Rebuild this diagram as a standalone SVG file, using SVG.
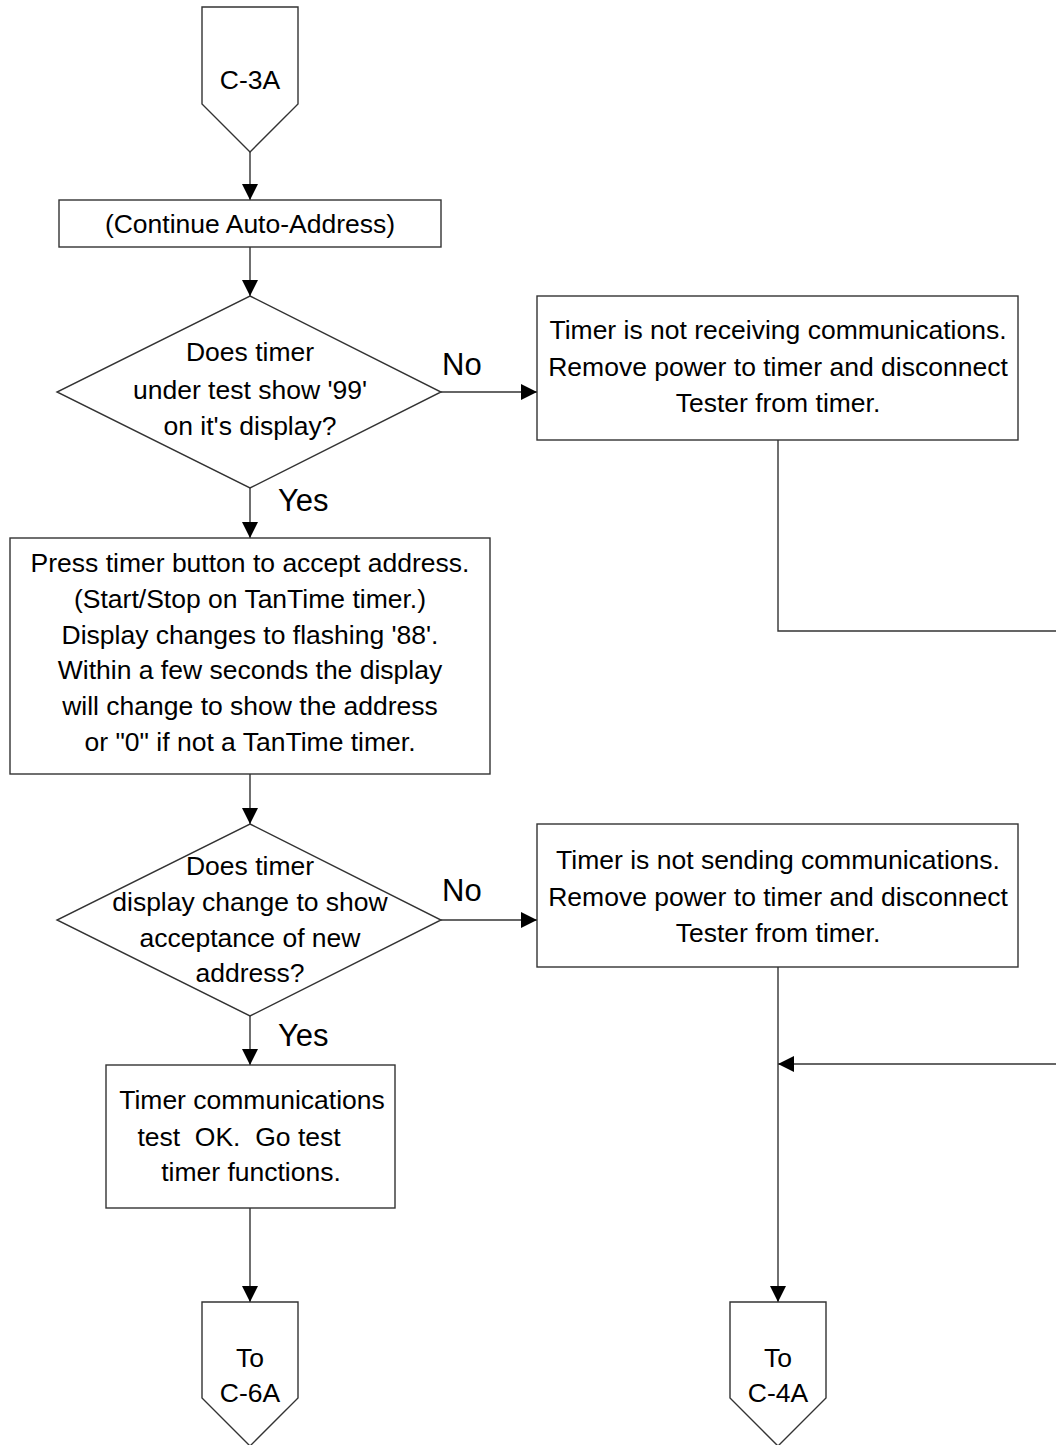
<svg xmlns="http://www.w3.org/2000/svg" width="1056" height="1445" viewBox="0 0 1056 1445">
<defs>
<style>
.shape{fill:#fff;stroke:#333;stroke-width:1.4}
.edge{fill:none;stroke:#333;stroke-width:1.4}
text{font-family:"Liberation Sans",Arial,sans-serif;font-size:26.5px;fill:#000;text-anchor:middle}
.lbl{font-size:31px;text-anchor:start}
.pre{white-space:pre}
</style>
<marker id="arr" viewBox="0 0 16 16" refX="16" refY="8" markerWidth="16" markerHeight="16" markerUnits="userSpaceOnUse" orient="auto">
<path d="M0,0 L16,8 L0,16 Z" fill="#000"/>
</marker>
</defs>
<rect width="1056" height="1445" fill="#fff"/>
<g id="connectors">
<line class="edge" x1="250" y1="152" x2="250" y2="200" marker-end="url(#arr)"/>
<line class="edge" x1="250" y1="247" x2="250" y2="296" marker-end="url(#arr)"/>
<line class="edge" x1="441" y1="392" x2="537" y2="392" marker-end="url(#arr)"/>
<line class="edge" x1="250" y1="488" x2="250" y2="538" marker-end="url(#arr)"/>
<line class="edge" x1="250" y1="774" x2="250" y2="824" marker-end="url(#arr)"/>
<line class="edge" x1="441" y1="920" x2="537" y2="920" marker-end="url(#arr)"/>
<line class="edge" x1="250" y1="1016" x2="250" y2="1065" marker-end="url(#arr)"/>
<line class="edge" x1="250" y1="1208" x2="250" y2="1302" marker-end="url(#arr)"/>
<polyline class="edge" points="778,440 778,631 1056,631"/>
<line class="edge" x1="1056" y1="1064" x2="778" y2="1064" marker-end="url(#arr)"/>
<line class="edge" x1="778" y1="967" x2="778" y2="1302" marker-end="url(#arr)"/>
<text class="lbl" x="442" y="375">No</text>
<text class="lbl" x="278" y="511">Yes</text>
<text class="lbl" x="442" y="901">No</text>
<text class="lbl" x="278" y="1046">Yes</text>
</g>
<g id="start">
<polygon class="shape" points="202,7 298,7 298,104 250,152 202,104"/>
<text x="250" y="89">C-3A</text>
</g>
<g id="continue">
<rect class="shape" x="59" y="200" width="382" height="47"/>
<text x="250" y="233">(Continue Auto-Address)</text>
</g>
<g id="decision1">
<polygon class="shape" points="250,296 441,392 250,488 57,392"/>
<text x="250" y="361">Does timer</text>
<text x="250" y="399">under test show '99'</text>
<text x="250" y="435">on it's display?</text>
</g>
<g id="notReceiving">
<rect class="shape" x="537" y="296" width="481" height="144"/>
<text x="778" y="339">Timer is not receiving communications.</text>
<text x="778" y="376">Remove power to timer and disconnect</text>
<text x="778" y="412">Tester from timer.</text>
</g>
<g id="pressButton">
<rect class="shape" x="10" y="538" width="480" height="236"/>
<text x="250" y="572">Press timer button to accept address.</text>
<text x="250" y="608">(Start/Stop on TanTime timer.)</text>
<text x="250" y="644">Display changes to flashing '88'.</text>
<text x="250" y="679">Within a few seconds the display</text>
<text x="250" y="715">will change to show the address</text>
<text x="250" y="751">or "0" if not a TanTime timer.</text>
</g>
<g id="decision2">
<polygon class="shape" points="250,824 441,920 250,1016 57,920"/>
<text x="250" y="875">Does timer</text>
<text x="250" y="911">display change to show</text>
<text x="250" y="947">acceptance of new</text>
<text x="250" y="982">address?</text>
</g>
<g id="notSending">
<rect class="shape" x="537" y="824" width="481" height="143"/>
<text x="778" y="869">Timer is not sending communications.</text>
<text x="778" y="906">Remove power to timer and disconnect</text>
<text x="778" y="942">Tester from timer.</text>
</g>
<g id="testOK">
<rect class="shape" x="106" y="1065" width="289" height="143"/>
<text x="252" y="1109">Timer communications</text>
<text class="pre" x="239" y="1146">test  OK.  Go test</text>
<text x="251" y="1181">timer functions.</text>
</g>
<g id="toC6A">
<polygon class="shape" points="202,1302 298,1302 298,1398 250,1446 202,1398"/>
<text x="250" y="1367">To</text>
<text x="250" y="1402">C-6A</text>
</g>
<g id="toC4A">
<polygon class="shape" points="730,1302 826,1302 826,1398 778,1446 730,1398"/>
<text x="778" y="1367">To</text>
<text x="778" y="1402">C-4A</text>
</g>
</svg>
